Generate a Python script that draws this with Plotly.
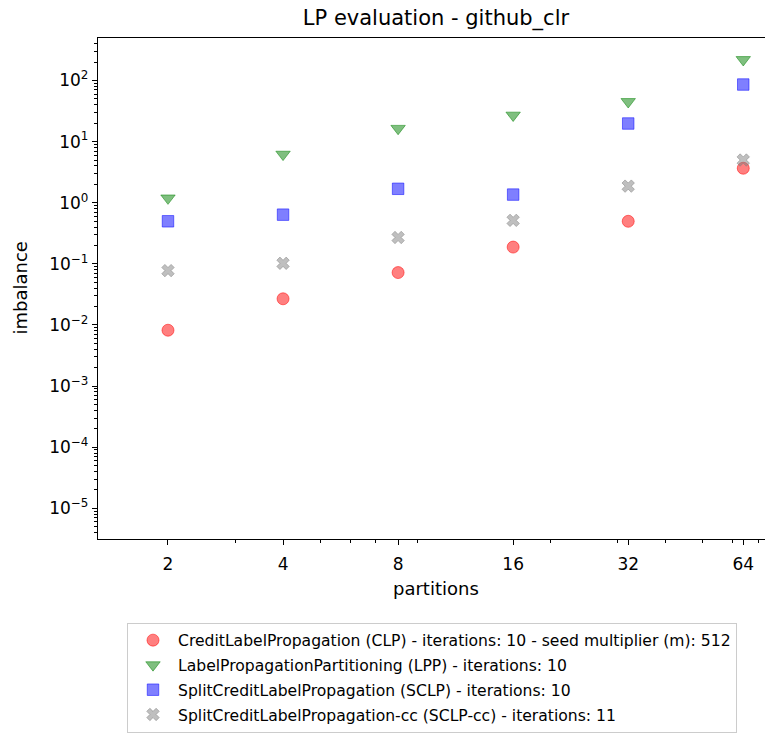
import plotly.graph_objects as go

# Number of partitions (x axis, log base 2 spacing)
partitions = [2, 4, 8, 16, 32, 64]

# Imbalance per algorithm
clp = [0.0082, 0.0268, 0.072, 0.188, 0.497, 3.67]
lpp = [1.19, 6.19, 16.4, 27.0, 45.0, 219.0]
sclp = [0.497, 0.638, 1.69, 1.36, 19.8, 86.0]
sclp_cc = [0.0775, 0.102, 0.27, 0.515, 1.87, 5.0]

series_names = [
    "CreditLabelPropagation (CLP) - iterations: 10 - seed multiplier (m): 512",
    "LabelPropagationPartitioning (LPP) - iterations: 10",
    "SplitCreditLabelPropagation (SCLP) - iterations: 10",
    "SplitCreditLabelPropagation-cc (SCLP-cc) - iterations: 11",
]

x_tick_vals = [2, 4, 8, 16, 32, 64]
x_tick_text = ["2", "4", "8", "16", "32", "64"]
x_minor_vals = [3, 5, 6, 7, 9, 20, 30, 40, 50, 60, 70]

y_exponents = [-5, -4, -3, -2, -1, 0, 1, 2]
y_tick_vals = [10.0 ** e for e in y_exponents]
y_tick_text = ["10<sup>%s</sup>" % str(e).replace("-", "\u2212") for e in y_exponents]
y_minor_vals = [m * 10.0 ** e for e in range(-6, 3) for m in range(2, 10)]

styles = [
    ("circle", (255, 0, 0), 12),
    ("triangle-down", (0, 128, 0), 12.5),
    ("square", (0, 0, 255), 11.5),
    ("x", (128, 128, 128), 11),
]

fig = go.Figure()
for i, (name, values, (symbol, rgb, size)) in enumerate(
    zip(series_names, [clp, lpp, sclp, sclp_cc], styles)
):
    rgba = "rgba(%d,%d,%d,0.5)" % rgb
    fig.add_trace(
        go.Scatter(
            x=partitions,
            y=values,
            mode="markers",
            name=name,
            legendgroup="g%d" % i,
            marker=dict(
                symbol=symbol,
                size=size,
                color=rgba,
                line=dict(color=rgba, width=1),
            ),
        )
    )

W, H = 765, 733
ml, mr, mt, mb = 98, 0, 38, 191
pw, ph = W - ml - mr, H - mt - mb

font = "DejaVu Sans, sans-serif"

fig.update_layout(
    width=W,
    height=H,
    margin=dict(l=ml, r=mr, t=mt, b=mb),
    paper_bgcolor="white",
    plot_bgcolor="white",
    font=dict(family=font, color="black", size=17),
    title=dict(
        text="LP evaluation - github_clr",
        font=dict(size=21, family=font, color="black"),
        x=(436 - ml) / pw,
        xref="paper",
        xanchor="center",
        y=1 - 18 / H,
        yref="container",
        yanchor="middle",
    ),
    showlegend=True,
    legend=dict(
        x=(127 - ml) / pw,
        y=(ph - (626 - mt)) / ph,
        xanchor="left",
        yanchor="top",
        bgcolor="white",
        bordercolor="#cccccc",
        borderwidth=1,
        font=dict(size=15.6, family=font, color="black"),
        itemwidth=40,
        tracegroupgap=1.5,
    ),
)

fig.update_xaxes(
    type="log",
    range=[0.1179, 0.1179 + pw / 382.2],
    tickmode="array",
    tickvals=x_tick_vals,
    ticktext=x_tick_text,
    ticks="outside",
    ticklen=5,
    tickwidth=1.2,
    tickcolor="black",
    ticklabelstandoff=4,
    showline=True,
    linecolor="black",
    linewidth=1.3,
    mirror=True,
    showgrid=False,
    zeroline=False,
    tickfont=dict(size=17),
    minor=dict(
        tickmode="array",
        tickvals=x_minor_vals,
        ticks="outside",
        ticklen=3,
        tickwidth=1,
        tickcolor="black",
        showgrid=False,
    ),
)

fig.update_yaxes(
    type="log",
    range=[-5.503, 2.696],
    tickmode="array",
    tickvals=y_tick_vals,
    ticktext=y_tick_text,
    ticks="outside",
    ticklen=5,
    tickwidth=1.2,
    tickcolor="black",
    showline=True,
    linecolor="black",
    linewidth=1.3,
    mirror=False,
    showgrid=False,
    zeroline=False,
    tickfont=dict(size=17),
    minor=dict(
        tickmode="array",
        tickvals=y_minor_vals,
        ticks="outside",
        ticklen=3,
        tickwidth=1,
        tickcolor="black",
        showgrid=False,
    ),
)

fig.add_annotation(
    text="partitions",
    xref="paper",
    yref="paper",
    x=(436 - ml) / pw,
    y=(ph - (592 - mt)) / ph,
    xanchor="center",
    yanchor="middle",
    showarrow=False,
    font=dict(size=18, family=font, color="black"),
)
fig.add_annotation(
    text="imbalance",
    xref="paper",
    yref="paper",
    x=(20 - ml) / pw,
    y=0.5,
    xanchor="center",
    yanchor="middle",
    textangle=-90,
    showarrow=False,
    font=dict(size=18, family=font, color="black"),
)

fig.write_html("out.html")
